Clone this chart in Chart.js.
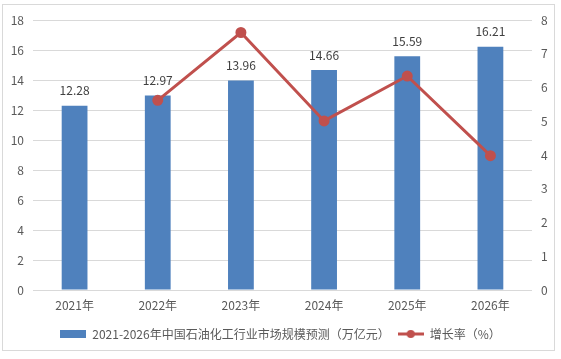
<!DOCTYPE html>
<html><head><meta charset="utf-8">
<script src="https://cdn.jsdelivr.net/npm/chart.js@4/dist/chart.umd.min.js"></script>
<style>
html,body{margin:0;padding:0;background:#fff;}
#wrap{position:relative;width:561px;height:359px;}
#frame{position:absolute;left:2px;top:4px;width:553px;height:347px;border:1px solid #d9d9d9;box-sizing:border-box;pointer-events:none;}
canvas{position:absolute;left:0;top:0;}
</style></head>
<body>
<div id="wrap"><canvas id="c" width="561" height="359"></canvas><div id="frame"></div></div>
<script>
const categories = ['2021年','2022年','2023年','2024年','2025年','2026年'];
const marketSize = [12.28, 12.97, 13.96, 14.66, 15.59, 16.21];
const growthRate = [null, 5.62, 7.63, 5.01, 6.34, 3.98];
const seriesNames = ['2021-2026年中国石油化工行业市场规模预测（万亿元）', '增长率（%）'];

const FONT = "'Noto Sans CJK SC', 'Noto Sans', sans-serif";
const BAR = '#4f81bd', LINE = '#c0504d', TXT = '#595959', GRID = '#d9d9d9';

function makeIcon(kind){
  const c = document.createElement('canvas'); c.width = 26; c.height = 10;
  const x = c.getContext('2d');
  if(kind==='bar'){ x.fillStyle = BAR; x.fillRect(0,1,26,8); }
  else { x.strokeStyle = LINE; x.lineWidth = 3; x.beginPath(); x.moveTo(0,5); x.lineTo(26,5); x.stroke();
    x.fillStyle = LINE; x.beginPath(); x.arc(13,5,4,0,Math.PI*2); x.fill(); }
  return c;
}
const icons = [makeIcon('bar'), makeIcon('line')];

const labelPlugin = {
  id:'barLabels',
  afterDatasetsDraw(chart){
    const ctx = chart.ctx; const meta = chart.getDatasetMeta(0);
    ctx.save(); ctx.font = '12px ' + FONT; ctx.fillStyle = '#404040';
    ctx.textAlign = 'center'; ctx.textBaseline = 'middle';
    meta.data.forEach((el,i)=>{ ctx.fillText(marketSize[i].toFixed(2), el.x, el.y - 15); });
    ctx.restore();
  }
};

new Chart(document.getElementById('c'), {
  data:{
    labels: categories,
    datasets:[
      {type:'bar', label: seriesNames[0], data: marketSize, backgroundColor: BAR, yAxisID:'y', order:1,
       categoryPercentage:1, barPercentage:0.31},
      {type:'line', label: seriesNames[1], data: growthRate, borderColor: LINE, backgroundColor: LINE,
       borderWidth:3, pointRadius:4, pointHoverRadius:4, yAxisID:'y1', order:0, spanGaps:false, tension:0}
    ]
  },
  options:{
    responsive:false, animation:false, devicePixelRatio:1,
    layout:{padding:{left:0,right:0,top:20,bottom:9}},
    plugins:{
      tooltip:{enabled:false},
      legend:{position:'bottom', labels:{
        font:{size:12, family:FONT}, color:TXT, usePointStyle:true, pointStyleWidth:26, padding:8,
        generateLabels(){ return seriesNames.map((n,i)=>({text:n, pointStyle:icons[i], fillStyle:'transparent', strokeStyle:'transparent', lineWidth:0, datasetIndex:i, fontColor:TXT})); }
      }}
    },
    scales:{
      x:{grid:{display:false, drawTicks:false}, border:{display:false},
         ticks:{font:{size:12, family:FONT}, color:TXT, padding:8},
         afterFit(s){ s.height = 30; }},
      y:{position:'left', min:0, max:18, ticks:{stepSize:2, font:{size:12, family:FONT}, color:TXT, padding:9},
         grid:{color:GRID, drawTicks:false}, border:{display:false},
         afterFit(s){ s.width = 33; }},
      y1:{position:'right', min:0, max:8, ticks:{stepSize:1, font:{size:12, family:FONT}, color:TXT, padding:9},
         grid:{display:false, drawTicks:false}, border:{display:false},
         afterFit(s){ s.width = 29; }}
    }
  },
  plugins:[labelPlugin]
});
</script>
</body></html>
